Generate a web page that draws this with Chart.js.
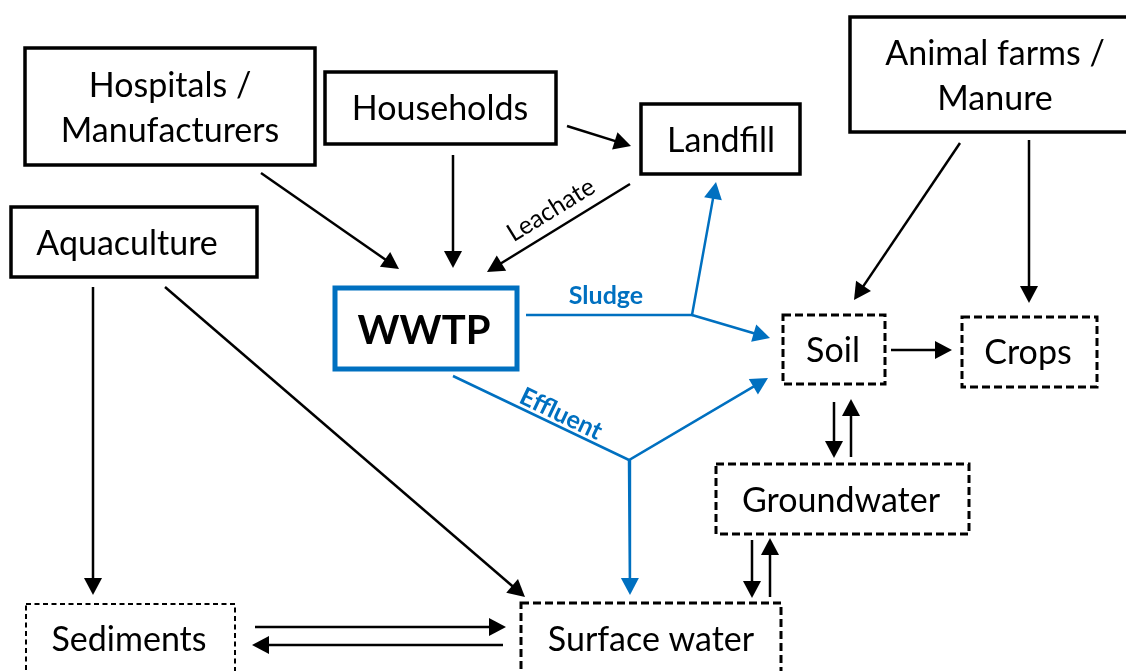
<!DOCTYPE html>
<html>
<head>
<meta charset="utf-8">
<script src="https://cdn.jsdelivr.net/npm/chart.js@4"></script>
<style>
  html, body { margin: 0; padding: 0; background: #fff; }
  #wrap { width: 1126px; height: 671px; position: relative; }
</style>
</head>
<body>
<div id="wrap"><canvas id="flow"></canvas></div>
<script>
// node names (sources, treatment, receiving compartments)
const nodeNames = ['Hospitals / Manufacturers', 'Households', 'Aquaculture', 'Landfill',
  'Animal farms / Manure', 'WWTP', 'Soil', 'Crops', 'Groundwater', 'Sediments', 'Surface water'];
// which way things go: [from, to, label]
const links = [
  ['Hospitals / Manufacturers', 'WWTP', ''],
  ['Households', 'WWTP', ''],
  ['Households', 'Landfill', ''],
  ['Landfill', 'WWTP', 'Leachate'],
  ['WWTP', 'Landfill', 'Sludge'],
  ['WWTP', 'Soil', 'Sludge'],
  ['WWTP', 'Soil', 'Effluent'],
  ['WWTP', 'Surface water', 'Effluent'],
  ['Animal farms / Manure', 'Soil', ''],
  ['Animal farms / Manure', 'Crops', ''],
  ['Soil', 'Crops', ''],
  ['Soil', 'Groundwater', ''],
  ['Groundwater', 'Soil', ''],
  ['Groundwater', 'Surface water', ''],
  ['Surface water', 'Groundwater', ''],
  ['Aquaculture', 'Sediments', ''],
  ['Aquaculture', 'Surface water', ''],
  ['Sediments', 'Surface water', ''],
  ['Surface water', 'Sediments', '']
];

// ---- layout (canvas units, y down) ----
const BLUE = '#0070C0';
const boxes = {
  'Hospitals / Manufacturers': { r: [25, 48, 315, 165], s: 'solid', lines: [['Hospitals /', 170, 97], ['Manufacturers', 170, 142]] },
  'Households': { r: [325, 72, 556, 144], s: 'solid', lines: [['Households', 440, 120]] },
  'Aquaculture': { r: [11, 207, 257, 277], s: 'solid', lines: [['Aquaculture', 127, 255]] },
  'Landfill': { r: [641, 104, 800, 174], s: 'solid', lines: [['Landfill', 721, 152]] },
  'Animal farms / Manure': { r: [850, 17, 1140, 132], s: 'solid', lines: [['Animal farms /', 995, 65], ['Manure', 995, 110]] },
  'WWTP': { r: [335, 288, 517, 369], s: 'blue', lines: [['WWTP', 424, 344]] },
  'Soil': { r: [783, 315, 885, 384], s: 'dashed', lines: [['Soil', 833, 362]] },
  'Crops': { r: [962, 317, 1097, 387], s: 'dashed', lines: [['Crops', 1028, 364]] },
  'Groundwater': { r: [716, 464, 969, 534], s: 'dashed', lines: [['Groundwater', 841, 512]] },
  'Sediments': { r: [26, 604, 235, 700], s: 'thin', lines: [['Sediments', 129, 651]] },
  'Surface water': { r: [521, 603, 781, 700], s: 'dashed', lines: [['Surface water', 651, 651]] }
};
// polyline per link, last point is the arrow tip
const paths = [
  [[261, 173], [399, 269]],
  [[453, 155], [453, 268]],
  [[567, 126], [631, 146]],
  [[630, 184], [487, 272]],
  [[526, 315], [692, 315], [716, 182]],
  [[692, 315], [770, 338]],
  [[453, 376], [629, 460], [768, 378]],
  [[629, 460], [630, 595]],
  [[960, 143], [854, 300]],
  [[1029, 140], [1029, 303]],
  [[891, 350], [952, 350]],
  [[834, 402], [834, 458]],
  [[851, 457], [851, 399]],
  [[752, 540], [752, 598]],
  [[770, 597], [770, 538]],
  [[93, 287], [93, 595]],
  [[165, 287], [525, 597]],
  [[255, 627], [506, 627]],
  [[503, 645], [252, 645]]
];
const labelPos = {
  Leachate: { x: 551, y: 210, a: -31.6, font: '25px Lato', color: '#000' },
  Sludge: { x: 606, y: 296, a: 0, font: 'bold 25px Lato', color: BLUE },
  Effluent: { x: 561, y: 414, a: 25.5, font: 'bold 25px Lato', color: BLUE }
};
const HEAD_LEN = 17, HEAD_HALF = 9;

const datasets = links.map((l, i) => {
  const pts = paths[i].map(p => ({ x: p[0], y: p[1] }));
  // stop the stroke inside the arrowhead
  const a = pts[pts.length - 2], b = pts[pts.length - 1];
  const d = Math.hypot(b.x - a.x, b.y - a.y);
  pts[pts.length - 1] = { x: b.x - (b.x - a.x) / d * 8, y: b.y - (b.y - a.y) / d * 8 };
  const blue = l[2] === 'Sludge' || l[2] === 'Effluent';
  return {
    label: l[0] + ' -> ' + l[1],
    data: pts,
    tip: paths[i][paths[i].length - 1],
    prev: paths[i][paths[i].length - 2],
    showLine: true,
    borderColor: blue ? BLUE : '#000',
    backgroundColor: blue ? BLUE : '#000',
    borderWidth: 2.5,
    pointRadius: 0,
    tension: 0
  };
});

const diagram = {
  id: 'diagram',
  beforeDatasetsDraw(chart) {
    const { ctx, scales: { x, y } } = chart;
    ctx.save();
    nodeNames.forEach(n => {
      const b = boxes[n];
      const x0 = x.getPixelForValue(b.r[0]), y0 = y.getPixelForValue(b.r[1]);
      const x1 = x.getPixelForValue(b.r[2]), y1 = y.getPixelForValue(b.r[3]);
      ctx.setLineDash([]);
      ctx.strokeStyle = '#000';
      if (b.s === 'solid') { ctx.lineWidth = 3.5; }
      if (b.s === 'blue') { ctx.lineWidth = 5; ctx.strokeStyle = BLUE; }
      if (b.s === 'dashed') { ctx.lineWidth = 3; ctx.setLineDash([8, 4]); }
      if (b.s === 'thin') { ctx.lineWidth = 2; ctx.setLineDash([5, 3.5]); }
      ctx.strokeRect(x0, y0, x1 - x0, y1 - y0);
      ctx.setLineDash([]);
      ctx.fillStyle = '#000';
      ctx.textAlign = 'center';
      ctx.textBaseline = 'alphabetic';
      ctx.font = b.s === 'blue' ? 'bold 40px Lato' : '34px Lato';
      b.lines.forEach(t => ctx.fillText(t[0], x.getPixelForValue(t[1]), y.getPixelForValue(t[2])));
    });
    ctx.restore();
  },
  afterDatasetsDraw(chart) {
    const { ctx, scales: { x, y } } = chart;
    ctx.save();
    chart.data.datasets.forEach(ds => {
      const tx = x.getPixelForValue(ds.tip[0]), ty = y.getPixelForValue(ds.tip[1]);
      const px = x.getPixelForValue(ds.prev[0]), py = y.getPixelForValue(ds.prev[1]);
      const ang = Math.atan2(ty - py, tx - px);
      ctx.save();
      ctx.translate(tx, ty);
      ctx.rotate(ang);
      ctx.beginPath();
      ctx.moveTo(0, 0);
      ctx.lineTo(-HEAD_LEN, -HEAD_HALF);
      ctx.lineTo(-HEAD_LEN, HEAD_HALF);
      ctx.closePath();
      ctx.fillStyle = ds.borderColor;
      ctx.fill();
      ctx.restore();
    });
    Object.keys(labelPos).forEach(k => {
      const p = labelPos[k];
      ctx.save();
      ctx.translate(x.getPixelForValue(p.x), y.getPixelForValue(p.y));
      ctx.rotate(p.a * Math.PI / 180);
      ctx.font = p.font;
      ctx.fillStyle = p.color;
      ctx.textAlign = 'center';
      ctx.textBaseline = 'middle';
      ctx.fillText(k, 0, 0);
      ctx.restore();
    });
    ctx.restore();
  }
};

new Chart(document.getElementById('flow'), {
  type: 'scatter',
  data: { datasets },
  options: {
    responsive: true,
    maintainAspectRatio: false,
    animation: false,
    layout: { padding: 0 },
    scales: {
      x: { type: 'linear', min: 0, max: 1126, display: false },
      y: { type: 'linear', min: 0, max: 671, reverse: true, display: false }
    },
    plugins: { legend: { display: false }, tooltip: { enabled: false } }
  },
  plugins: [diagram]
});
</script>
</body>
</html>
